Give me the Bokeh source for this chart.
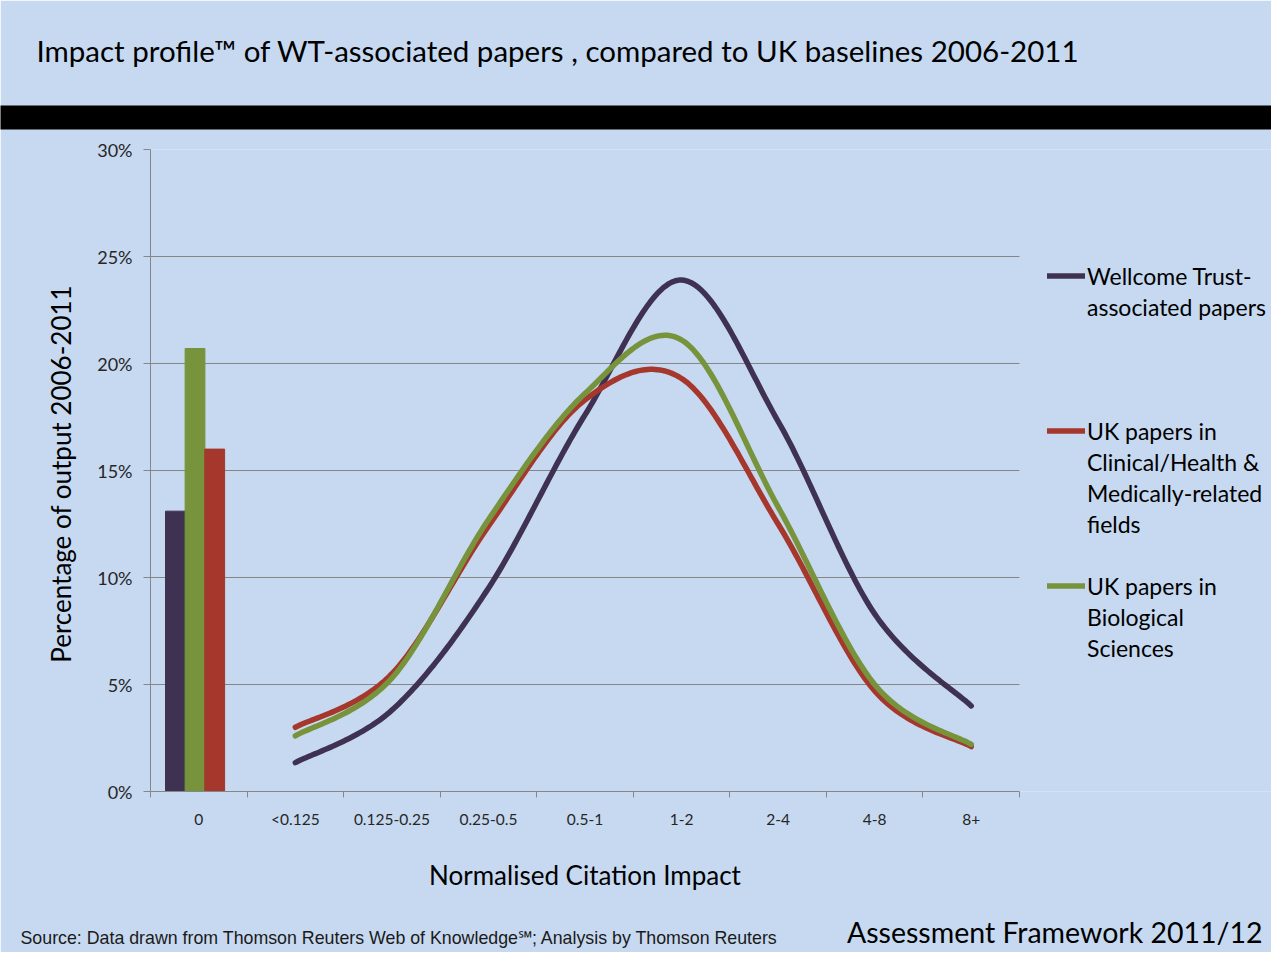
import numpy as np
from bokeh.plotting import figure
from bokeh.models import (Range1d, FixedTicker, PrintfTickFormatter, Label,
                          Legend, LegendItem, ColumnDataSource)
from bokeh.embed import file_html
from bokeh.resources import INLINE

# ---------------- data ----------------
categories = ["0", "<0.125", "0.125-0.25", "0.25-0.5", "0.5-1", "1-2", "2-4", "4-8", "8+"]
series_labels = [["Wellcome Trust-", "associated papers"],
                 ["UK papers in", "Clinical/Health &", "Medically-related", "fields"],
                 ["UK papers in", "Biological", "Sciences"]]
uncited_wt = 13.1
uncited_clin = 16.0
uncited_bio = 20.7
cited_wt = [1.35, 3.8, 9.5, 17.6, 23.9, 17.3, 8.3, 4.0]
cited_clin = [3.0, 5.5, 12.4, 18.3, 19.3, 12.5, 4.7, 2.1]
cited_bio = [2.6, 5.3, 12.7, 18.6, 21.1, 13.3, 5.0, 2.2]
y_ticks = [0, 5, 10, 15, 20, 25, 30]

title_text = "Impact profile\u2122  of WT-associated papers , compared to UK baselines 2006-2011"
x_title = "Normalised Citation Impact"
y_title = "Percentage  of output 2006-2011"
source_text = "Source: Data drawn  from Thomson Reuters  Web of Knowledge\u2120; Analysis by Thomson Reuters"
footer_text = "Assessment Framework 2011/12"

C_WT = "#3f3151"
C_CLIN = "#a5372d"
C_BIO = "#77933c"
BG = "#c6d9f0"
GRID = "#868686"
TXT = "#262626"
FONT = "Lato"

# ---------------- layout geometry (pixels) ----------------
W, H = 1271, 952
FL, FT, FW, FH = 150, 149, 869, 642          # chart area left/top/width/height
N = len(categories)
YMAX = 30
UNIT = FW / N                                # pixels per category
X_END = (W - FL) / UNIT                      # frame runs to the right edge (legend lives there)
LEG_ROW = 31                                 # legend line pitch (px)
LEG_SLOTS = 5                                # rows reserved per legend entry


def dx(X):   # page pixel -> x data coordinate (for text placement)
    return (X - FL) / UNIT


def dy(Y):   # page pixel -> y data coordinate (for text placement)
    return (FT + FH - Y) / (FH / YMAX)


def smooth(xs, ys, n=40):
    """Excel-like smoothed line (Catmull-Rom Bezier through the points)."""
    P = np.column_stack([xs, ys]).astype(float)
    out = []
    m = len(P)
    for i in range(m - 1):
        p0 = P[i - 1] if i > 0 else P[i]
        p1 = P[i]
        p2 = P[i + 1]
        p3 = P[i + 2] if i + 2 < m else P[i + 1]
        c1 = p1 + (p2 - p0) / 6.0
        c2 = p2 - (p3 - p1) / 6.0
        t = np.linspace(0, 1, n, endpoint=(i == m - 2))[:, None]
        seg = ((1 - t) ** 3) * p1 + 3 * ((1 - t) ** 2) * t * c1 + 3 * (1 - t) * t ** 2 * c2 + t ** 3 * p2
        out.append(seg)
    S = np.vstack(out)
    return S[:, 0], S[:, 1]


p = figure(width=W, height=H, output_backend="svg", toolbar_location=None,
           x_range=Range1d(0, X_END), y_range=Range1d(0, YMAX),
           min_border_left=FL, min_border_right=0, min_border_top=FT,
           min_border_bottom=H - FT - FH)
p.background_fill_color = BG
p.border_fill_color = BG
p.outline_line_color = None

centers = [i + 0.5 for i in range(N)]
p.xaxis.bounds = (0, N)
p.xaxis.ticker = FixedTicker(ticks=centers, minor_ticks=list(range(N + 1)))
p.xaxis.major_label_overrides = {c: lab for c, lab in zip(centers, categories)}
p.xaxis.major_tick_line_color = None
p.xaxis.major_tick_out = 6
p.xaxis.minor_tick_line_color = GRID
p.xaxis.minor_tick_out = 6
p.xaxis.minor_tick_in = 0
p.xaxis.axis_line_color = GRID
p.xaxis.major_label_text_font = FONT
p.xaxis.major_label_text_font_size = "15.5px"
p.xaxis.major_label_text_color = TXT
p.xaxis.major_label_standoff = 12

p.yaxis.ticker = FixedTicker(ticks=y_ticks)
p.yaxis.formatter = PrintfTickFormatter(format="%d%%")
p.yaxis.major_tick_line_color = GRID
p.yaxis.major_tick_out = 7
p.yaxis.major_tick_in = 0
p.yaxis.minor_tick_line_color = None
p.yaxis.axis_line_color = GRID
p.yaxis.major_label_text_font = FONT
p.yaxis.major_label_text_font_size = "18px"
p.yaxis.major_label_text_color = TXT
p.yaxis.major_label_standoff = 11
p.yaxis.axis_label = y_title
p.yaxis.axis_label_text_font = FONT
p.yaxis.axis_label_text_font_size = "26px"
p.yaxis.axis_label_text_font_style = "normal"
p.yaxis.axis_label_text_color = "#000000"
p.yaxis.axis_label_standoff = 17

p.xgrid.grid_line_color = None
try:
    p.ygrid.cross_bounds = (0, N)
    p.ygrid.grid_line_color = GRID
    p.ygrid.grid_line_width = 1
except Exception:
    p.ygrid.grid_line_color = None
    p.segment(x0=[0] * len(y_ticks), x1=[N] * len(y_ticks), y0=y_ticks, y1=y_ticks,
              line_color=GRID, line_width=1, level="underlay")

bar_src = ColumnDataSource(dict(
    x=[0.5 - 0.242, 0.5 - 0.039, 0.5 + 0.165],
    top=[uncited_wt, uncited_bio, uncited_clin],
    color=[C_WT, C_BIO, C_CLIN]))
p.vbar(x="x", top="top", bottom=0, width=0.205, color="color", source=bar_src)

xs_c = centers[1:]
renderers = []
for vals, col in [(cited_wt, C_WT), (cited_clin, C_CLIN), (cited_bio, C_BIO)]:
    sx, sy = smooth(xs_c, vals)
    r = p.line(sx, sy, line_color=col, line_width=5.5, line_cap="round", line_join="round")
    renderers.append(r)

# legend: one row per text line; continuation rows carry an invisible key
blank = p.line(x=[], y=[], line_alpha=0)
items = []
for k, (lines, r) in enumerate(zip(series_labels, renderers)):
    for j, txt in enumerate(lines):
        items.append(LegendItem(label=txt, renderers=[r if j == 0 else blank]))
    if k < len(series_labels) - 1:
        for _ in range(LEG_SLOTS - len(lines)):
            items.append(LegendItem(label=" ", renderers=[blank]))
n_rows = len(items)
leg_top = 275 - LEG_ROW / 2
legend = Legend(items=items,
                location=(1047 - FL, int(round(FT + FH - (leg_top + n_rows * LEG_ROW)))),
                spacing=0, glyph_width=38, glyph_height=LEG_ROW, label_height=LEG_ROW,
                label_standoff=2, padding=0, margin=0, border_line_color=None,
                background_fill_alpha=0, label_text_font=FONT,
                label_text_font_size="23px", label_text_color="#000000")
p.add_layout(legend, "center")

# ---- texts and band outside the plot frame (in side panels, not clipped) ----
p.add_layout(Label(x=dx(36), y=dy(50), text=title_text, text_font=FONT,
                   text_font_size="29.5px", text_baseline="middle",
                   text_color="#000000"), "above")
p.add_layout(Label(x=dx(0), y=dy(117), text=" ", text_font_size="2px",
                   text_baseline="middle", text_align="left",
                   padding=dict(left=0, right=W + 20, top=11, bottom=11),
                   background_fill_color="#000000", background_fill_alpha=1.0),
             "above")
p.add_layout(Label(x=dx(1262), y=dy(931), text=footer_text, text_align="right",
                   text_font=FONT, text_font_size="28.5px", text_baseline="middle",
                   text_color="#000000"), "above")
p.add_layout(Label(x=N / 2, y=dy(874), text=x_title, text_align="center",
                   text_font=FONT, text_font_size="26px", text_baseline="middle",
                   text_color="#000000"), "below")
p.add_layout(Label(x=dx(20), y=dy(937), text=source_text,
                   text_font="Liberation Sans", text_font_size="17.8px",
                   text_baseline="middle", text_color="#1a1a1a"), "below")

open("out.html", "w").write(file_html(p, INLINE))
